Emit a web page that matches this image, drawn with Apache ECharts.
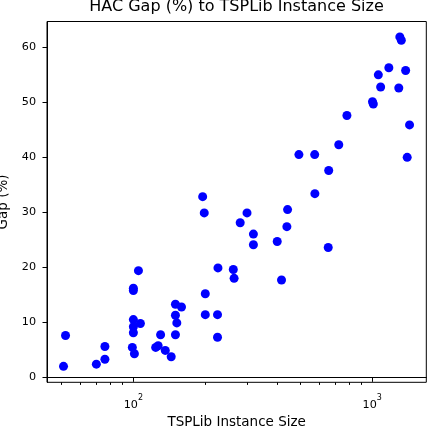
<!DOCTYPE html>
<html>
<head>
<meta charset="utf-8">
<script src="https://cdn.jsdelivr.net/npm/echarts@6/dist/echarts.min.js"></script>
<style>
  html, body { margin: 0; padding: 0; background: #fff; }
  #chart { width: 428px; height: 426px; }
</style>
</head>
<body>
<div id="chart"></div>
<script>
// Instance sizes (number of cities) and HAC gap (%)
const sizes = [51, 52, 70, 76, 76, 99, 100, 100, 100, 100, 100, 101, 105, 107,
  124, 127, 130, 136, 144, 150, 150, 150, 152, 159, 195, 198, 200, 200,
  225, 225, 226, 262, 264, 280, 299, 318, 318, 400, 417, 439, 442,
  493, 574, 575, 654, 657, 724, 783, 1002, 1010, 1060, 1084, 1173,
  1291, 1304, 1323, 1379, 1400, 1432];
const gaps = [2.0, 7.6, 2.4, 3.3, 5.6, 5.45, 16.2, 15.8, 10.5, 9.2, 8.1, 4.3, 19.4, 9.8,
  5.45, 5.75, 7.75, 4.9, 3.75, 7.75, 11.3, 13.3, 9.9, 12.8, 32.85, 29.9, 15.2, 11.4,
  11.4, 7.3, 19.9, 19.6, 18.0, 28.1, 29.9, 26.05, 24.1, 24.7, 17.7, 27.4, 30.5,
  40.5, 40.5, 33.4, 23.6, 37.6, 42.3, 47.6, 50.1, 49.7, 55.0, 52.8, 56.3,
  52.6, 61.9, 61.3, 55.8, 40.0, 45.9];
const xMajorTicks = [100, 1000];
const xMinorTicks = [50, 60, 70, 80, 90, 200, 300, 400, 500, 600, 700, 800, 900];
const yTicks = [0, 10, 20, 30, 40, 50, 60];

const titleText = 'HAC Gap (%) to TSPLib Instance Size';
const xName = 'TSPLib Instance Size';
const yName = 'Gap (%)';

const FONT = 'DejaVu Sans';
const points = sizes.map((s, i) => [s, gaps[i]]);

const chart = echarts.init(document.getElementById('chart'), null, { renderer: 'canvas' });
chart.setOption({
  animation: false,
  backgroundColor: '#ffffff',
  textStyle: { fontFamily: FONT },
  grid: {
    left: 47, right: 1.7, top: 21.5, bottom: 43.7,
    show: true, borderColor: '#000', borderWidth: 1, backgroundColor: 'transparent',
    containLabel: false,
    outerBoundsMode: 'none'
  },
  graphic: [{
    type: 'text',
    x: 236.5, y: 6.5,
    style: {
      text: titleText, fill: '#000', font: '16px "DejaVu Sans"',
      align: 'center', verticalAlign: 'middle'
    }
  }],
  xAxis: [{
    type: 'log', logBase: 10, min: 43.5, max: 1683,
    position: 'bottom',
    name: xName, nameLocation: 'middle', nameGap: 33.5,
    nameTextStyle: { color: '#000', fontSize: 13.5, fontFamily: FONT },
    axisLine: { show: true, lineStyle: { color: '#000', width: 1 } },
    axisTick: { show: true, customValues: xMajorTicks, length: 4.5, lineStyle: { color: '#000', width: 1 } },
    axisLabel: {
      show: true, customValues: xMajorTicks, margin: 12, color: '#000',
      formatter: v => '{b|10}{s|' + Math.round(Math.log10(v)) + '}',
      rich: {
        b: { fontSize: 11.2, fontFamily: FONT, color: '#000', verticalAlign: 'bottom', lineHeight: 16 },
        s: { fontSize: 8, fontFamily: FONT, color: '#000', verticalAlign: 'top', lineHeight: 16 }
      }
    },
    splitLine: { show: false },
    minorTick: { show: false }
  }, {
    type: 'log', logBase: 10, min: 43.5, max: 1683,
    position: 'bottom', offset: 0,
    axisLine: { show: false },
    axisTick: { show: true, customValues: xMinorTicks, length: 2.6, lineStyle: { color: '#000', width: 1 } },
    axisLabel: { show: false },
    splitLine: { show: false }
  }],
  yAxis: {
    type: 'value', min: -0.9, max: 64.7,
    name: yName, nameLocation: 'middle', nameGap: 32, nameRotate: 90,
    nameTextStyle: { color: '#000', fontSize: 13.5, fontFamily: FONT },
    axisLine: { show: true, lineStyle: { color: '#000', width: 1 } },
    axisTick: { show: true, customValues: yTicks, length: 4.5, lineStyle: { color: '#000', width: 1 } },
    axisLabel: { show: true, customValues: yTicks, margin: 11, color: '#000', fontSize: 11.2, fontFamily: FONT },
    splitLine: { show: false }
  },
  series: [{
    type: 'scatter',
    xAxisIndex: 0,
    data: points,
    symbol: 'circle',
    symbolSize: 9,
    itemStyle: { color: '#0000ff', opacity: 1 }
  }]
});
</script>
</body>
</html>
